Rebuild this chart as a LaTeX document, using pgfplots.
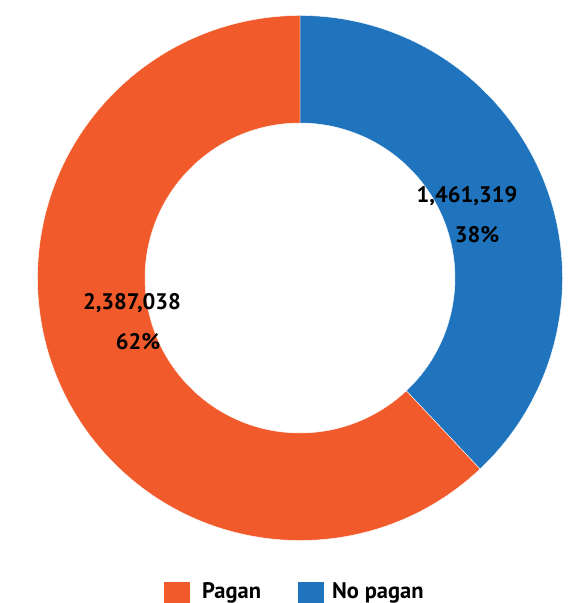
\documentclass[border=0pt]{standalone}
\usepackage{pgfplots}
\usepackage{pgfplotstable}
\pgfplotsset{compat=1.18}
\usepackage{fontspec}
\setmainfont{PT Sans}
\definecolor{pagan}{HTML}{F15A2A}
\definecolor{nopagan}{HTML}{1F74BD}
\pgfplotstableread{
label value
Pagan 2387038
NoPagan 1461319
}\data
\pgfplotstablegetelem{0}{value}\of\data \edef\vA{\pgfplotsretval}
\pgfplotstablegetelem{1}{value}\of\data \edef\vB{\pgfplotsretval}
\edef\angB{\fpeval{360*\vB/(\vA+\vB)}}
\edef\endB{\fpeval{90-\angB}}
\begin{document}
\begin{tikzpicture}
\begin{axis}[
  scale only axis, width=583pt, height=603pt,
  xmin=0, xmax=583, ymin=0, ymax=603,
  hide axis, clip=false,
]
\path (axis cs:0,0) rectangle (axis cs:583,603);
\def\cx{300}\def\cy{325}\def\R{262.5}\def\r{155}
% No pagan (blue)
\fill[nopagan, draw=white, line width=0.4pt]
  ({\cx+\R*cos(90)},{\cy+\R*sin(90)}) arc[start angle=90, end angle=\endB, radius=\R]
  -- ({\cx+\r*cos(\endB)},{\cy+\r*sin(\endB)}) arc[start angle=\endB, end angle=90, radius=\r] -- cycle;
% Pagan (orange)
\fill[pagan, draw=white, line width=0.4pt]
  ({\cx+\R*cos(\endB)},{\cy+\R*sin(\endB)}) arc[start angle=\endB, end angle=-270, radius=\R]
  -- ({\cx+\r*cos(-270)},{\cy+\r*sin(-270)}) arc[start angle=-270, end angle=\endB, radius=\r] -- cycle;
% labels
\tikzset{lbl/.style={font=\bfseries\fontsize{22.5}{26}\selectfont, inner sep=0pt}}
\node[lbl, anchor=base] at (axis cs:467,400) {1,461,319};
\node[lbl, anchor=base] at (axis cs:477,360) {38\%};
\node[lbl, anchor=base] at (axis cs:132,293) {2,387,038};
\node[lbl, anchor=base] at (axis cs:138,253) {62\%};
% legend
\fill[pagan] (axis cs:164,0) rectangle (axis cs:190,21);
\fill[nopagan] (axis cs:298,0) rectangle (axis cs:324,21);
\node[lbl, anchor=base west] at (axis cs:202,5) {Pagan};
\node[lbl, anchor=base west] at (axis cs:332,5) {No pagan};
\end{axis}
\end{tikzpicture}
\end{document}
